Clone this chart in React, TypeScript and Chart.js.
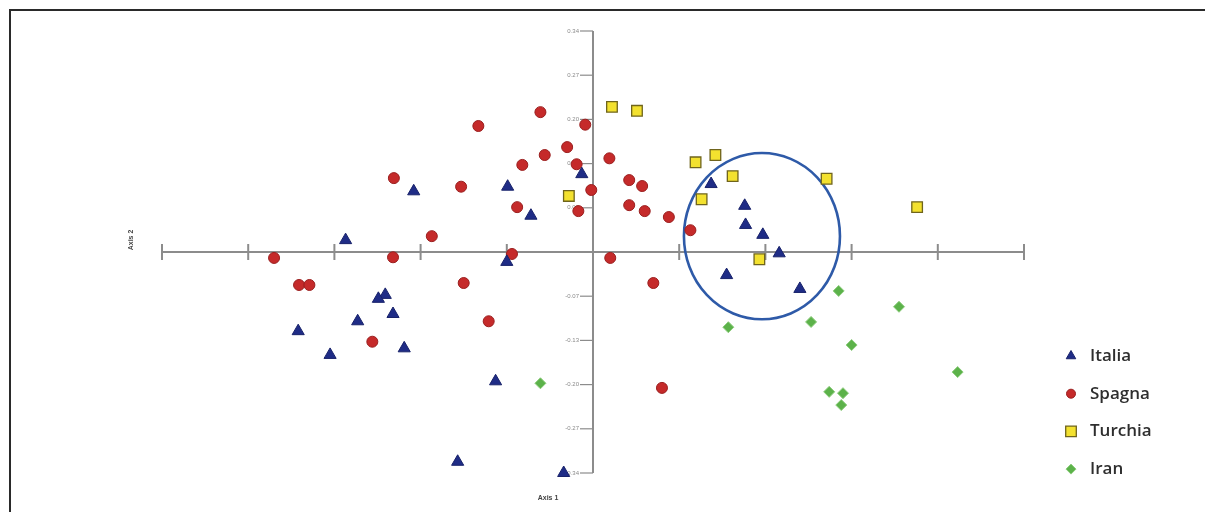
import React, { useEffect, useRef } from "react";
import { Chart, registerables } from "chart.js";
import { drawPoint } from "chart.js/helpers";

Chart.register(...registerables);

// ---- Data (x: Axis 1, y: Axis 2) ----
const italiaX = [-0.208, -0.287, -0.099, -0.072, -0.013, -0.1, -0.241, -0.249, -0.232, -0.342, -0.273, -0.305, -0.219, -0.113, -0.157, -0.034, 0.137, 0.176, 0.177, 0.197, 0.216, 0.155, 0.24];
const italiaY = [0.092, 0.018, 0.099, 0.055, 0.118, -0.015, -0.065, -0.071, -0.094, -0.12, -0.105, -0.156, -0.146, -0.196, -0.318, -0.335, 0.103, 0.07, 0.041, 0.026, -0.002, -0.035, -0.056];

const spagnaX = [-0.061, -0.133, -0.009, -0.03, -0.056, -0.082, 0.019, -0.019, -0.002, -0.231, -0.153, 0.042, 0.057, -0.088, -0.017, 0.042, 0.06, 0.088, 0.113, -0.187, -0.37, -0.232, -0.094, 0.02, -0.341, -0.329, -0.15, 0.07, -0.121, -0.256, 0.08];
const spagnaY = [0.212, 0.191, 0.193, 0.159, 0.147, 0.132, 0.142, 0.133, 0.094, 0.112, 0.099, 0.109, 0.1, 0.068, 0.062, 0.071, 0.062, 0.053, 0.033, 0.024, -0.009, -0.008, -0.003, -0.009, -0.05, -0.05, -0.047, -0.047, -0.105, -0.136, -0.206];

const turchiaX = [0.022, 0.051, -0.028, 0.119, 0.142, 0.162, 0.126, 0.271, 0.376, 0.193];
const turchiaY = [0.22, 0.214, 0.085, 0.136, 0.147, 0.115, 0.08, 0.111, 0.068, -0.011];

const iranX = [-0.061, 0.157, 0.253, 0.285, 0.355, 0.3, 0.423, 0.274, 0.29, 0.288];
const iranY = [-0.199, -0.114, -0.106, -0.059, -0.083, -0.141, -0.182, -0.212, -0.214, -0.232];

const seriesNames = ["Italia", "Spagna", "Turchia", "Iran"];

const xMin = -0.5;
const xMax = 0.5;
const xTickValues = [-0.5, -0.4, -0.3, -0.2, -0.1, 0, 0.1, 0.2, 0.3, 0.4, 0.5];
const yMin = -0.335;
const yMax = 0.335;
const yTickValues = [0.335, 0.268, 0.201, 0.134, 0.067, -0.067, -0.134, -0.201, -0.268, -0.335];
const yTickLabels = ["0.34", "0.27", "0.20", "0.13", "0.07", "-0.07", "-0.13", "-0.20", "-0.27", "-0.34"];
const xAxisTitle = "Axis 1";
const yAxisTitle = "Axis 2";

// highlighted cluster (ellipse in data units)
const clusterCenter = [0.196, 0.024];
const clusterRadius = [0.0905, 0.126];

const toPoints = (xs: number[], ys: number[]) => xs.map((x, i) => ({ x, y: ys[i] }));

const styles = [
  { pointStyle: "triangle", radius: 7, legendRadius: 5.5, bg: "#1f2c86", border: "#18226a", bw: 1 },
  { pointStyle: "circle", radius: 5.5, legendRadius: 4.5, bg: "#c52a2a", border: "#9b1f1f", bw: 1 },
  { pointStyle: "rect", radius: 7.5, legendRadius: 7.5, bg: "#f3e12f", border: "#6f641c", bw: 1.3 },
  { pointStyle: "rectRot", radius: 5.5, legendRadius: 5, bg: "#5cb24a", border: "#8ccc7c", bw: 1 },
];

const decorPlugin = {
  id: "decor",
  beforeDraw(chart: any) {
    const ctx = chart.ctx as CanvasRenderingContext2D;
    const w = chart.width;
    const h = chart.height;
    ctx.save();
    ctx.fillStyle = "#ffffff";
    ctx.fillRect(0, 0, w, h);
    ctx.strokeStyle = "#2a2a2a";
    ctx.lineWidth = 2;
    ctx.beginPath();
    ctx.moveTo(w, 10);
    ctx.lineTo(10, 10);
    ctx.lineTo(10, h);
    ctx.stroke();
    ctx.restore();
  },
  beforeDatasetsDraw(chart: any) {
    const ctx = chart.ctx as CanvasRenderingContext2D;
    const xs = chart.scales.x;
    const ys = chart.scales.y;
    const x0 = xs.getPixelForValue(0);
    const y0 = ys.getPixelForValue(0);
    ctx.save();
    ctx.strokeStyle = "#8c8c8c";
    ctx.lineWidth = 2;
    ctx.beginPath();
    ctx.moveTo(xs.getPixelForValue(xMin), y0);
    ctx.lineTo(xs.getPixelForValue(xMax), y0);
    ctx.stroke();
    xTickValues.forEach((v) => {
      const px = xs.getPixelForValue(v);
      ctx.beginPath();
      ctx.moveTo(px, y0 - 8);
      ctx.lineTo(px, y0 + 8);
      ctx.stroke();
    });
    ctx.beginPath();
    ctx.moveTo(x0, ys.getPixelForValue(yMax));
    ctx.lineTo(x0, ys.getPixelForValue(yMin));
    ctx.stroke();
    ctx.lineWidth = 1.2;
    ctx.fillStyle = "#8a8a8a";
    ctx.font = "6px Arial, 'Liberation Sans', sans-serif";
    ctx.textAlign = "right";
    ctx.textBaseline = "middle";
    yTickValues.forEach((v, i) => {
      const py = ys.getPixelForValue(v);
      ctx.beginPath();
      ctx.moveTo(x0 - 13, py);
      ctx.lineTo(x0, py);
      ctx.stroke();
      ctx.fillText(yTickLabels[i], x0 - 14, py);
    });
    ctx.fillStyle = "#444";
    ctx.font = "bold 7px Arial, 'Liberation Sans', sans-serif";
    ctx.textAlign = "center";
    ctx.fillText(xAxisTitle, 548, 498);
    ctx.save();
    ctx.translate(131, 240);
    ctx.rotate(-Math.PI / 2);
    ctx.fillText(yAxisTitle, 0, 0);
    ctx.restore();
    const cx = xs.getPixelForValue(clusterCenter[0]);
    const cy = ys.getPixelForValue(clusterCenter[1]);
    const rx = Math.abs(xs.getPixelForValue(clusterCenter[0] + clusterRadius[0]) - cx);
    const ry = Math.abs(ys.getPixelForValue(clusterCenter[1] + clusterRadius[1]) - cy);
    ctx.strokeStyle = "#2e5aa8";
    ctx.lineWidth = 2.6;
    ctx.beginPath();
    ctx.ellipse(cx, cy, rx, ry, 0, 0, Math.PI * 2);
    ctx.stroke();
    ctx.restore();
  },
  afterDraw(chart: any) {
    const ctx = chart.ctx as CanvasRenderingContext2D;
    ctx.save();
    const legendX = 1071;
    const legendY0 = 356;
    const gap = 37.7;
    chart.data.datasets.forEach((ds: any, i: number) => {
      const y = legendY0 + i * gap;
      const s = styles[i];
      ctx.fillStyle = s.bg;
      ctx.strokeStyle = s.border;
      ctx.lineWidth = s.bw;
      drawPoint(ctx, { pointStyle: s.pointStyle as any, radius: s.legendRadius, borderWidth: s.bw, rotation: 0 }, legendX, y);
      ctx.fillStyle = "#2e2e2e";
      ctx.font = "600 17px 'Open Sans', Lato, sans-serif";
      ctx.textAlign = "left";
      ctx.textBaseline = "middle";
      ctx.fillText(ds.label, legendX + 19, y);
    });
    ctx.restore();
  },
};

export default function App() {
  const canvasRef = useRef<HTMLCanvasElement | null>(null);

  useEffect(() => {
    if (!canvasRef.current) return;
    const allX = [italiaX, spagnaX, turchiaX, iranX];
    const allY = [italiaY, spagnaY, turchiaY, iranY];
    const chart = new Chart(canvasRef.current, {
      type: "scatter",
      data: {
        datasets: seriesNames.map((name, i) => ({
          label: name,
          data: toPoints(allX[i], allY[i]),
          pointStyle: styles[i].pointStyle as any,
          pointRadius: styles[i].radius,
          pointHoverRadius: styles[i].radius,
          backgroundColor: styles[i].bg,
          borderColor: styles[i].border,
          borderWidth: styles[i].bw,
          clip: false as any,
        })),
      },
      options: {
        animation: false,
        responsive: false,
        devicePixelRatio: 1,
        layout: { padding: { left: 162, right: 181, top: 31, bottom: 39 } },
        scales: {
          x: { type: "linear", min: xMin, max: xMax, display: false },
          y: { type: "linear", min: yMin, max: yMax, display: false },
        },
        plugins: {
          legend: { display: false },
          tooltip: { enabled: false },
        },
      },
      plugins: [decorPlugin],
    });
    return () => chart.destroy();
  }, []);

  return (
    <div style={{ position: "absolute", left: 0, top: 0, width: 1205, height: 512 }}>
      <canvas ref={canvasRef} width={1205} height={512} style={{ display: "block" }} />
    </div>
  );
}
